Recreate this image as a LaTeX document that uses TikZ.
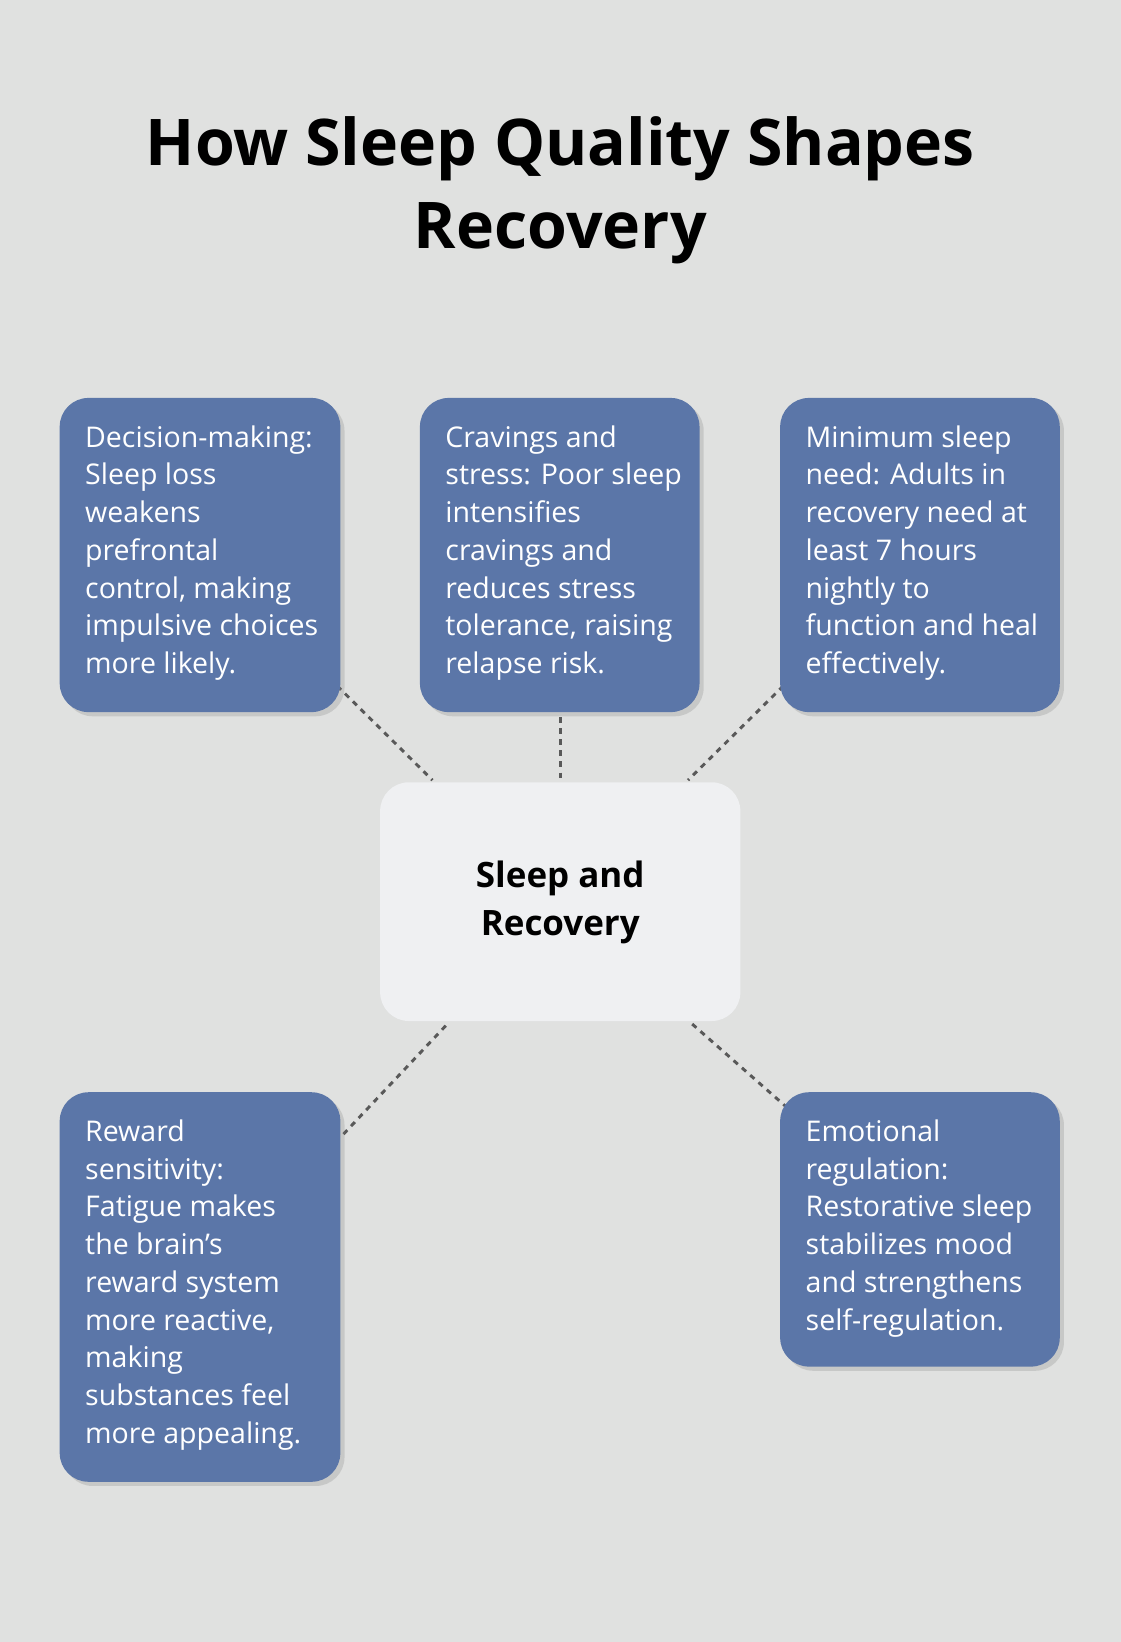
\documentclass[tikz,border=0pt]{standalone}
\usepackage{fontspec}
\setmainfont{Open Sans}
\usetikzlibrary{shadows,positioning}
\definecolor{bg}{HTML}{E0E1E0}
\definecolor{boxc}{HTML}{5B76A8}
\definecolor{cen}{HTML}{EFF0F2}
\begin{document}
\begin{tikzpicture}[x=0.02cm,y=-0.02cm,
 card/.style={fill=boxc,rounded corners=0.55cm,draw=none,drop shadow={shadow xshift=0.08cm,shadow yshift=-0.08cm,opacity=0.25}},
 txt/.style={anchor=north west,align=left,text=white,font=\fontsize{15.5pt}{20.5pt}\selectfont,inner sep=0pt},
 con/.style={draw=black!65,line width=1.6pt,dash pattern=on 3pt off 3pt}]
\fill[bg] (0,0) rectangle (1070,1568);
\useasboundingbox (0,0) rectangle (1070,1568);
\node (title) at (535,182) [align=center,font=\fontsize{35pt}{45pt}\selectfont\bfseries] {How Sleep Quality Shapes\\Recovery};
% connectors
\coordinate (a1) at (322,655); \coordinate (a2) at (413,745);
\coordinate (b1) at (535,685); \coordinate (b2) at (535,745);
\coordinate (c1) at (748,655); \coordinate (c2) at (657,745);
\coordinate (d1) at (328,1083); \coordinate (d2) at (428,977);
\coordinate (e1) at (752,1058); \coordinate (e2) at (660,977);
\draw[con] (a1)--(a2); \draw[con] (b1)--(b2); \draw[con] (c1)--(c2);
\draw[con] (d1)--(d2); \draw[con] (e1)--(e2);
% boxes
\path[card] (57,380) rectangle (325,680);
\path[card] (401,380) rectangle (668,680);
\path[card] (745,380) rectangle (1012,680);
\path[card] (57,1043) rectangle (325,1415);
\path[card] (745,1043) rectangle (1012,1305);
\path[fill=cen,rounded corners=0.55cm] (363,747) rectangle (707,975);
\node (c) at (535,862) [align=center,font=\fontsize{19pt}{26pt}\selectfont\bfseries] {Sleep and\\Recovery};
\node (t1) at (81,406) [txt] {Decision-making:\\Sleep loss\\weakens\\prefrontal\\control, making\\impulsive choices\\more likely.};
\node (t2) at (425,406) [txt] {Cravings and\\stress: Poor sleep\\intensifies\\cravings and\\reduces stress\\tolerance, raising\\relapse risk.};
\node (t3) at (769,406) [txt] {Minimum sleep\\need: Adults in\\recovery need at\\least 7 hours\\nightly to\\function and heal\\effectively.};
\node (t4) at (81,1069) [txt] {Reward\\sensitivity:\\Fatigue makes\\the brain’s\\reward system\\more reactive,\\making\\substances feel\\more appealing.};
\node (t5) at (769,1069) [txt] {Emotional\\regulation:\\Restorative sleep\\stabilizes mood\\and strengthens\\self-regulation.};
\end{tikzpicture}
\end{document}
